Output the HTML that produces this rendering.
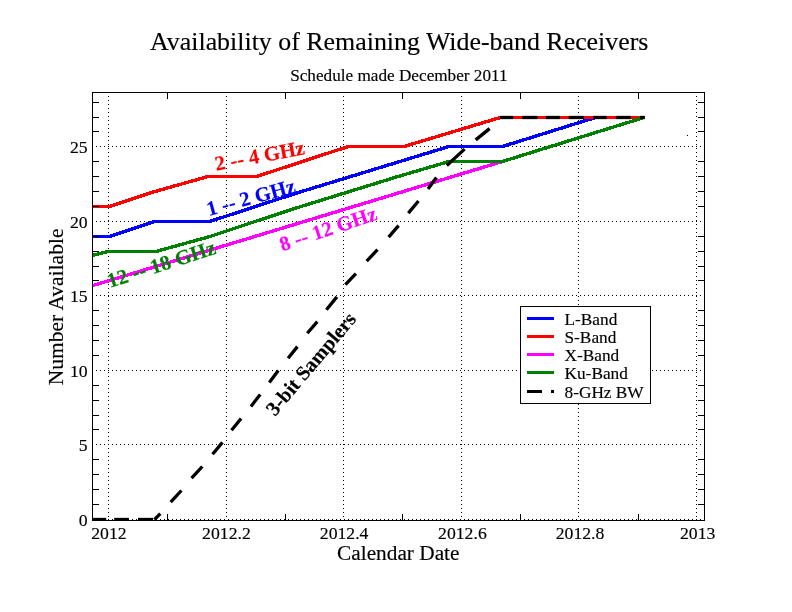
<!DOCTYPE html><html><head><meta charset="utf-8"><style>html,body{margin:0;padding:0;background:#fff;width:792px;height:612px;overflow:hidden}svg{display:block}text{font-family:"Liberation Serif",serif;stroke:#000;stroke-width:0.15px}</style></head><body>
<svg style="will-change:transform" width="792" height="612" viewBox="0 0 792 612">
<rect width="792" height="612" fill="#fff"/>
<defs><clipPath id="pc"><rect x="92" y="92" width="613" height="429"/></clipPath></defs>
<g stroke="#000" stroke-width="1" stroke-dasharray="1 3" shape-rendering="crispEdges"><line x1="108.5" y1="96" x2="108.5" y2="520" /><line x1="226.5" y1="96" x2="226.5" y2="520" /><line x1="343.5" y1="96" x2="343.5" y2="520" /><line x1="461.5" y1="96" x2="461.5" y2="520" /><line x1="578.5" y1="96" x2="578.5" y2="520" /><line x1="696.5" y1="96" x2="696.5" y2="520" /><line x1="96" y1="519.5" x2="704" y2="519.5" /><line x1="96" y1="444.5" x2="704" y2="444.5" /><line x1="96" y1="370.5" x2="704" y2="370.5" /><line x1="96" y1="295.5" x2="704" y2="295.5" /><line x1="96" y1="221.5" x2="704" y2="221.5" /><line x1="96" y1="146.5" x2="704" y2="146.5" /></g>
<g clip-path="url(#pc)" shape-rendering="crispEdges">
<polyline fill="none" stroke="#0000ff" stroke-width="3.4" stroke-linejoin="miter" stroke-linecap="butt" points="80.0,236.5 109.5,236.5 154.5,221.5 209.7,221.5 300.0,192.0 449.0,146.5 502.4,146.5 595.5,117.5 644.0,117.5" />
<polyline fill="none" stroke="#ff0000" stroke-width="3.4" stroke-linejoin="miter" stroke-linecap="butt" points="80.0,206.5 109.8,206.5 153.3,192.0 208.0,176.5 256.7,176.5 348.3,146.5 404.0,146.5 500.3,117.5 644.0,117.5" />
<polyline fill="none" stroke="#ff00ff" stroke-width="3.4" stroke-linejoin="miter" stroke-linecap="butt" points="80.0,289.4 502.4,161.5 644.0,117.5" />
<polyline fill="none" stroke="#008000" stroke-width="3.4" stroke-linejoin="miter" stroke-linecap="butt" points="80.0,258.6 108.5,251.5 155.9,251.5 210.0,236.5 255.0,221.5 301.0,206.5 349.5,191.5 398.0,176.5 449.0,161.5 502.4,161.5 644.0,117.5" />
<g stroke="#000" stroke-width="3.3" stroke-linecap="butt" shape-rendering="geometricPrecision"><line x1="86" y1="519.5" x2="106.2" y2="519.5"/><line x1="114.2" y1="519.5" x2="128.9" y2="519.5"/><line x1="138" y1="519.5" x2="153" y2="519.5"/><line x1="500" y1="117.5" x2="513.2" y2="117.5"/><line x1="522.3" y1="117.5" x2="537.4" y2="117.5"/><line x1="545.9" y1="117.5" x2="560" y2="117.5"/><line x1="568.7" y1="117.5" x2="583.9" y2="117.5"/><line x1="593.4" y1="117.5" x2="606.7" y2="117.5"/><line x1="615.8" y1="117.5" x2="630.8" y2="117.5"/><line x1="640" y1="117.5" x2="644.9" y2="117.5"/><line x1="154.4" y1="519.6" x2="160.3" y2="513.6"/><line x1="170.7" y1="502.1" x2="181.4" y2="490.5"/><line x1="191.6" y1="478.2" x2="202.3" y2="466.5"/><line x1="212.6" y1="454.2" x2="222.4" y2="442.4"/><line x1="231.5" y1="430.2" x2="241.1" y2="418.5"/><line x1="250.9" y1="406.4" x2="260.2" y2="394.5"/><line x1="269.3" y1="382.4" x2="278.3" y2="370.4"/><line x1="288.1" y1="358.3" x2="297.4" y2="346.6"/><line x1="307.3" y1="333.3" x2="317.3" y2="321.6"/><line x1="326.4" y1="309.7" x2="336.9" y2="296.9"/><line x1="345.4" y1="284.6" x2="355.9" y2="273.6"/><line x1="366.7" y1="261.1" x2="377.5" y2="249.7"/><line x1="388.6" y1="237.1" x2="398.6" y2="225.7"/><line x1="408.3" y1="213.1" x2="418.5" y2="201.0"/><line x1="428.0" y1="189.0" x2="436.4" y2="177.5"/><line x1="446.8" y1="165.5" x2="464.6" y2="149.1"/><line x1="475.7" y1="139.9" x2="489.6" y2="128.6"/></g>
</g>
<g stroke="#000" stroke-width="1" fill="none" shape-rendering="crispEdges"><rect x="92.5" y="92.5" width="612" height="428" fill="none"/><line x1="92" y1="504.5" x2="99" y2="504.5"/><line x1="698" y1="504.5" x2="705" y2="504.5"/><line x1="92" y1="489.5" x2="99" y2="489.5"/><line x1="698" y1="489.5" x2="705" y2="489.5"/><line x1="92" y1="474.5" x2="99" y2="474.5"/><line x1="698" y1="474.5" x2="705" y2="474.5"/><line x1="92" y1="459.5" x2="99" y2="459.5"/><line x1="698" y1="459.5" x2="705" y2="459.5"/><line x1="92" y1="429.5" x2="99" y2="429.5"/><line x1="698" y1="429.5" x2="705" y2="429.5"/><line x1="92" y1="415.5" x2="99" y2="415.5"/><line x1="698" y1="415.5" x2="705" y2="415.5"/><line x1="92" y1="400.5" x2="99" y2="400.5"/><line x1="698" y1="400.5" x2="705" y2="400.5"/><line x1="92" y1="385.5" x2="99" y2="385.5"/><line x1="698" y1="385.5" x2="705" y2="385.5"/><line x1="92" y1="355.5" x2="99" y2="355.5"/><line x1="698" y1="355.5" x2="705" y2="355.5"/><line x1="92" y1="340.5" x2="99" y2="340.5"/><line x1="698" y1="340.5" x2="705" y2="340.5"/><line x1="92" y1="325.5" x2="99" y2="325.5"/><line x1="698" y1="325.5" x2="705" y2="325.5"/><line x1="92" y1="310.5" x2="99" y2="310.5"/><line x1="698" y1="310.5" x2="705" y2="310.5"/><line x1="92" y1="280.5" x2="99" y2="280.5"/><line x1="698" y1="280.5" x2="705" y2="280.5"/><line x1="92" y1="266.5" x2="99" y2="266.5"/><line x1="698" y1="266.5" x2="705" y2="266.5"/><line x1="92" y1="251.5" x2="99" y2="251.5"/><line x1="698" y1="251.5" x2="705" y2="251.5"/><line x1="92" y1="236.5" x2="99" y2="236.5"/><line x1="698" y1="236.5" x2="705" y2="236.5"/><line x1="92" y1="206.5" x2="99" y2="206.5"/><line x1="698" y1="206.5" x2="705" y2="206.5"/><line x1="92" y1="191.5" x2="99" y2="191.5"/><line x1="698" y1="191.5" x2="705" y2="191.5"/><line x1="92" y1="176.5" x2="99" y2="176.5"/><line x1="698" y1="176.5" x2="705" y2="176.5"/><line x1="92" y1="161.5" x2="99" y2="161.5"/><line x1="698" y1="161.5" x2="705" y2="161.5"/><line x1="92" y1="131.5" x2="99" y2="131.5"/><line x1="698" y1="131.5" x2="705" y2="131.5"/><line x1="92" y1="117.5" x2="99" y2="117.5"/><line x1="698" y1="117.5" x2="705" y2="117.5"/><line x1="92" y1="102.5" x2="99" y2="102.5"/><line x1="698" y1="102.5" x2="705" y2="102.5"/><line x1="167.5" y1="92" x2="167.5" y2="99"/><line x1="167.5" y1="514" x2="167.5" y2="521"/><line x1="285.5" y1="92" x2="285.5" y2="99"/><line x1="285.5" y1="514" x2="285.5" y2="521"/><line x1="402.5" y1="92" x2="402.5" y2="99"/><line x1="402.5" y1="514" x2="402.5" y2="521"/><line x1="520.5" y1="92" x2="520.5" y2="99"/><line x1="520.5" y1="514" x2="520.5" y2="521"/><line x1="638.5" y1="92" x2="638.5" y2="99"/><line x1="638.5" y1="514" x2="638.5" y2="521"/></g>
<rect x="520.5" y="306.5" width="130" height="97" fill="#fff" stroke="#000" stroke-width="1" shape-rendering="crispEdges"/>
<rect x="527" y="317.0" width="27" height="3" fill="#0000ff"/>
<text x="564.5" y="324.6" font-size="17.3">L-Band</text>
<rect x="527" y="335.0" width="27" height="3" fill="#ff0000"/>
<text x="564.5" y="342.6" font-size="17.3">S-Band</text>
<rect x="527" y="353.0" width="27" height="3" fill="#ff00ff"/>
<text x="564.5" y="360.6" font-size="17.3">X-Band</text>
<rect x="527" y="371.0" width="27" height="3" fill="#008000"/>
<text x="564.5" y="378.6" font-size="17.3">Ku-Band</text>
<rect x="527" y="390.0" width="15" height="3" fill="#000"/><rect x="551" y="390.0" width="3" height="3" fill="#000"/>
<text x="564.5" y="397.7" font-size="17.3">8-GHz BW</text>
<text x="150.04" y="49.7" font-size="25.9">Availability of Remaining Wide-band Receivers</text>
<text x="290.15" y="80.8" font-size="17.2">Schedule made December 2011</text>
<text x="337.1" y="559.8" font-size="21.3">Calendar Date</text>
<text transform="translate(63,385.2) rotate(-90)" x="0" y="0" font-size="21.5">Number Available</text>
<text transform="translate(78.77,525.9) scale(1.0,1)" font-size="17.7">0</text>
<text transform="translate(78.79,450.9) scale(1.0,1)" font-size="17.7">5</text>
<text transform="translate(69.92,376.9) scale(1.0,1)" font-size="17.7">10</text>
<text transform="translate(69.94,301.9) scale(1.0,1)" font-size="17.7">15</text>
<text transform="translate(69.92,227.9) scale(1.0,1)" font-size="17.7">20</text>
<text transform="translate(69.94,152.9) scale(1.0,1)" font-size="17.7">25</text>
<text transform="translate(91.20,538.9) scale(1.0,1)" font-size="17.7">2012</text>
<text transform="translate(202.11,538.9) scale(1.0,1)" font-size="17.7">2012.2</text>
<text transform="translate(319.81,538.9) scale(1.0,1)" font-size="17.7">2012.4</text>
<text transform="translate(438.09,538.9) scale(1.0,1)" font-size="17.7">2012.6</text>
<text transform="translate(555.71,538.9) scale(1.0,1)" font-size="17.7">2012.8</text>
<text transform="translate(680.01,538.9) scale(1.0,1)" font-size="17.7">2013</text>
<text transform="translate(216.25,170.86) rotate(-10.69)" font-size="20.6" font-weight="bold" fill="#ff0000" style="stroke:#ff0000">2 -- 4 GHz</text>
<text transform="translate(208.71,216.03) rotate(-15.21)" font-size="20.6" font-weight="bold" fill="#0000ff" style="stroke:#0000ff">1 -- 2 GHz</text>
<text transform="translate(109.82,288.11) rotate(-17.98)" font-size="20.8" font-weight="bold" fill="#008000" style="stroke:#008000">12 -- 18 GHz</text>
<text transform="translate(282.16,251.52) rotate(-18.56)" font-size="20.6" font-weight="bold" fill="#ff00ff" style="stroke:#ff00ff">8 -- 12 GHz</text>
<text transform="translate(274.90,416.89) rotate(-49.77)" font-size="20.4" font-weight="bold" fill="#000000" style="stroke:#000000">3-bit Samplers</text>
<rect x="687" y="135" width="1" height="1" fill="#000"/>
</svg></body></html>
